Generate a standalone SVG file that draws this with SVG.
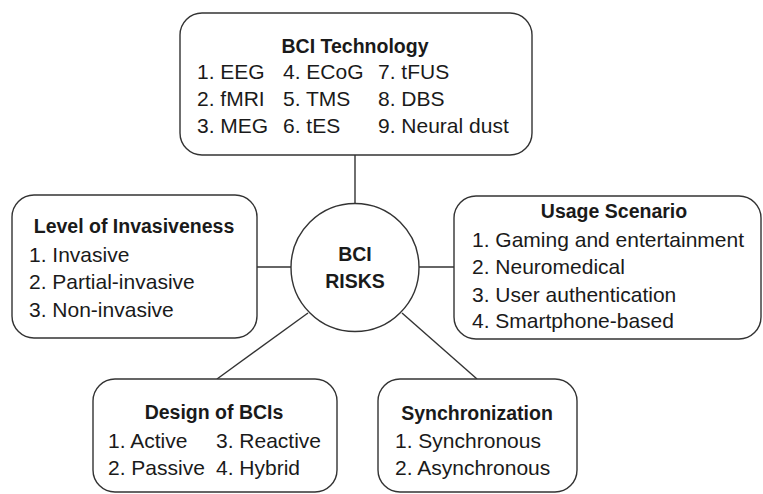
<svg xmlns="http://www.w3.org/2000/svg" width="763" height="494" viewBox="0 0 763 494">
  <style>
    .box { fill: #fff; stroke: #333; stroke-width: 1.4; }
    .link { stroke: #333; stroke-width: 1.4; fill: none; }
    text { font-family: "Liberation Sans", Arial, sans-serif; fill: #1a1a1a; }
    .title { font-size: 19.5px; font-weight: bold; text-anchor: middle; }
    .item { font-size: 21px; }
  </style>
  <rect width="763" height="494" fill="#fff"/>

  <g id="connectors">
    <line class="link" x1="355" y1="155" x2="355" y2="203"/>
    <line class="link" x1="257" y1="267" x2="291" y2="267"/>
    <line class="link" x1="419" y1="267" x2="454" y2="267"/>
    <line class="link" x1="217" y1="379" x2="308" y2="313"/>
    <line class="link" x1="477" y1="379" x2="402" y2="313"/>
  </g>

  <g id="bci-risks">
    <circle class="box" cx="355" cy="267.5" r="64"/>
    <text class="title" x="355" y="261">BCI</text>
    <text class="title" x="355" y="288">RISKS</text>
  </g>

  <g id="bci-technology">
    <rect class="box" x="180" y="13" width="352" height="142" rx="22"/>
    <text class="title" x="355" y="53">BCI Technology</text>
    <text class="item" x="197" y="79">1. EEG</text>
    <text class="item" x="197" y="106">2. fMRI</text>
    <text class="item" x="197" y="133">3. MEG</text>
    <text class="item" x="283" y="79">4. ECoG</text>
    <text class="item" x="283" y="106">5. TMS</text>
    <text class="item" x="283" y="133">6. tES</text>
    <text class="item" x="378" y="79">7. tFUS</text>
    <text class="item" x="378" y="106">8. DBS</text>
    <text class="item" x="378" y="133">9. Neural dust</text>
  </g>

  <g id="level-of-invasiveness">
    <rect class="box" x="12" y="195" width="245" height="143" rx="22"/>
    <text class="title" x="134" y="233">Level of Invasiveness</text>
    <text class="item" x="29" y="262">1. Invasive</text>
    <text class="item" x="29" y="289">2. Partial-invasive</text>
    <text class="item" x="29" y="317">3. Non-invasive</text>
  </g>

  <g id="usage-scenario">
    <rect class="box" x="454" y="196" width="307" height="143" rx="22"/>
    <text class="title" x="614" y="218">Usage Scenario</text>
    <text class="item" x="472" y="247">1. Gaming and entertainment</text>
    <text class="item" x="472" y="274">2. Neuromedical</text>
    <text class="item" x="472" y="302">3. User authentication</text>
    <text class="item" x="472" y="328">4. Smartphone-based</text>
  </g>

  <g id="design-of-bcis">
    <rect class="box" x="93" y="379" width="244" height="113" rx="22"/>
    <text class="title" x="214" y="419">Design of BCIs</text>
    <text class="item" x="108" y="448">1. Active</text>
    <text class="item" x="108" y="475">2. Passive</text>
    <text class="item" x="216" y="448">3. Reactive</text>
    <text class="item" x="216" y="475">4. Hybrid</text>
  </g>

  <g id="synchronization">
    <rect class="box" x="378" y="379" width="199" height="113" rx="22"/>
    <text class="title" x="477" y="420">Synchronization</text>
    <text class="item" x="395" y="448">1. Synchronous</text>
    <text class="item" x="395" y="475">2. Asynchronous</text>
  </g>
</svg>
